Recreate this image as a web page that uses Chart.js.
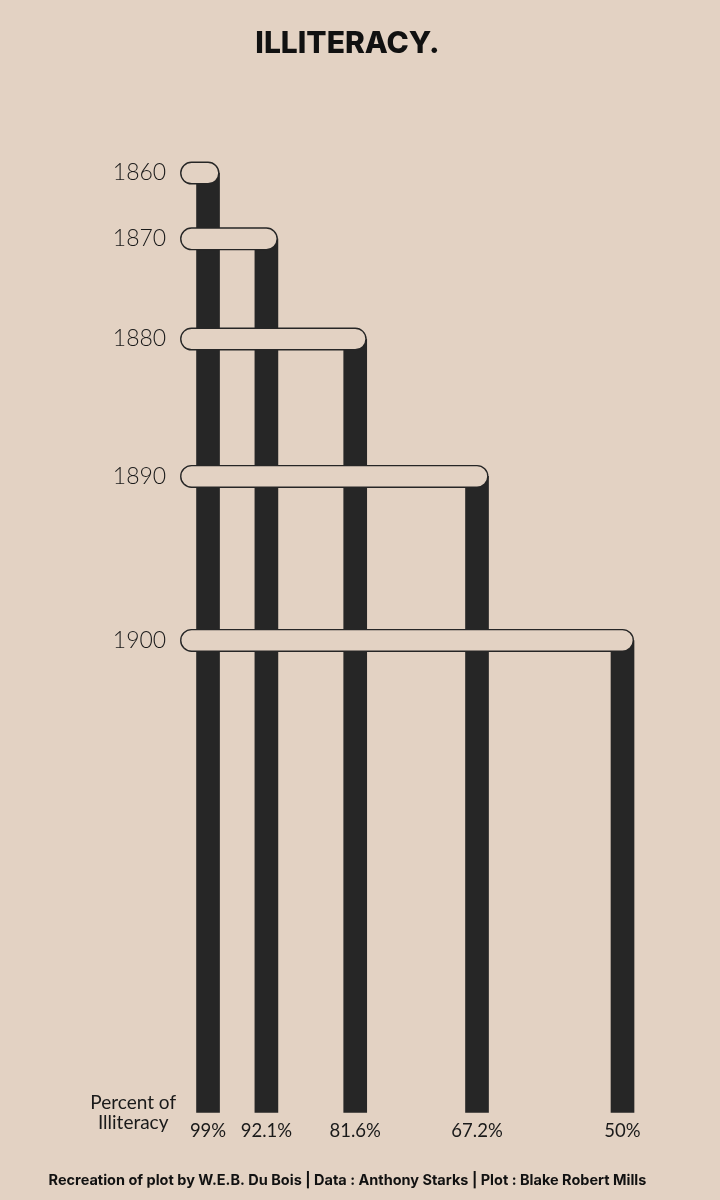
<!DOCTYPE html>
<html>
<head>
<meta charset="utf-8">
<script src="https://cdn.jsdelivr.net/npm/chart.js@4.4.1/dist/chart.umd.min.js"></script>
<style>
  html, body { margin: 0; padding: 0; background: #e3d2c3; }
  #_canvasp { width: 720px; height: 1200px; position: relative; }
</style>
</head>
<body>
<div id="_canvasp"><canvas id="_canvasc"></canvas></div>
<script>
	// ******************************************************** DATA
	var years    = [ "1860", "1870", "1880", "1890", "1900" ];
	var illit    = [ 99, 92.1, 81.6, 67.2, 50 ];
	var xLabels  = [ "99%", "92.1%", "81.6%", "67.2%", "50%" ];

	var pillStart = 100.95;   // left cap of every pill, in x units
	var barBase   = 0.5;

	var BG   = "#e3d2c3";
	var INK  = "#262626";

	// bars : one floating bar per year, from the base up to its level
	var barData = illit.map(function (v) { return { x: v, y: [barBase, v] }; });

	// pills : one segment per year, gaps in between
	var pillData = [];
	illit.forEach(function (v) {
		pillData.push({ x: pillStart, y: v });
		pillData.push({ x: v, y: v });
		pillData.push({ x: v, y: null });
	});

	// ******************************************************** PLUGIN
	var sideLabel = {
		id: 'sideLabel',
		afterDraw: function (chart) {
			var c = chart.ctx, a = chart.chartArea;
			c.save();
			c.fillStyle = "#1a1a1a";
			c.font = "19px Lato";
			c.textAlign = "center";
			c.textBaseline = "middle";
			c.fillText("Percent of", a.left - 41, a.bottom - 10);
			c.fillText("Illiteracy", a.left - 41, a.bottom + 10);
			c.restore();
		}
	};

	// ******************************************************** CHART
	var config = {
		data: {
			datasets: [{
				type: 'line',
				data: pillData,
				borderColor: BG,
				borderWidth: 20.2,
				borderCapStyle: 'round',
				pointRadius: 0,
				spanGaps: false,
				order: 0
			}, {
				type: 'line',
				data: pillData,
				borderColor: INK,
				borderWidth: 23,
				borderCapStyle: 'round',
				pointRadius: 0,
				spanGaps: false,
				order: 1
			}, {
				type: 'bar',
				data: barData,
				backgroundColor: INK,
				barThickness: 23,
				borderWidth: 0,
				order: 2
			}]
		},
		options: {
			responsive: true,
			maintainAspectRatio: false,
			animation: false,
			layout: { padding: { left: 30.2, right: 55.2, top: 0, bottom: 0 } },
			plugins: {
				legend: { display: false },
				tooltip: { enabled: false },
				title: {
					display: true,
					text: "ILLITERACY.",
					color: "#111",
					font: { family: "Inter", size: 30, weight: 800 },
					padding: { top: 26, bottom: 82.4 }
				},
				subtitle: {
					display: true,
					position: 'bottom',
					text: "Recreation of plot by W.E.B. Du Bois | Data : Anthony Starks | Plot : Blake Robert Mills",
					color: "#111",
					font: { family: "Inter", size: 14.5, weight: 'bold' },
					padding: { top: 19.6, bottom: 10.3 }
				}
			},
			scales: {
				x: {
					type: 'linear',
					reverse: true,
					min: 45,
					max: 103,
					offset: false,
					border: { display: false },
					grid: { display: false, drawTicks: false },
					afterBuildTicks: function (s) { s.ticks = illit.map(function (v) { return { value: v }; }); },
					afterFit: function (s) { s.height = 40; },
					ticks: {
						autoSkip: false,
						maxRotation: 0,
						padding: 7,
						color: "#1a1a1a",
						font: { family: "Lato", size: 18.5 },
						callback: function (v) { return xLabels[illit.indexOf(v)]; }
					}
				},
				y: {
					type: 'linear',
					min: barBase,
					max: 102,
					offset: false,
					border: { display: false },
					grid: { display: false, drawTicks: false },
					afterBuildTicks: function (s) { s.ticks = illit.map(function (v) { return { value: v }; }); },
					afterFit: function (s) { s.width = 144; },
					ticks: {
						autoSkip: false,
						padding: 8,
						color: "#1a1a1a",
						font: { family: "Lato", size: 23, weight: 300 },
						callback: function (v) { return years[illit.indexOf(v)]; }
					}
				}
			}
		},
		plugins: [ sideLabel ]
	};

	var _canvasc = document.getElementById("_canvasc");
	var _ctxc = _canvasc.getContext("2d");
	window.myChart = new Chart(_ctxc, config);
</script>
</body>
</html>
